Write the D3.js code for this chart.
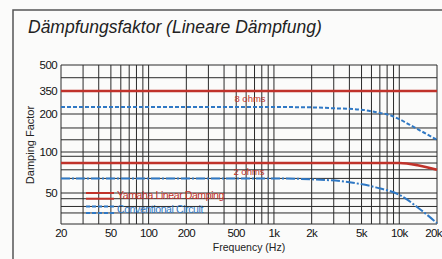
<!DOCTYPE html>
<html><head><meta charset="utf-8">
<script src="https://cdn.jsdelivr.net/npm/d3@7"></script>
<style>body{margin:0;background:#fbfbfa;}svg{display:block;}</style>
</head><body>
<svg id="c" width="442" height="259"></svg>
<script>
// ---- data ----
const title = "Dämpfungsfaktor (Lineare Dämpfung)";
const yTicks = [500, 350, 200, 100, 50];
const yGrid = [500, 420, 350, 200, 155, 125, 100, 93, 83, 74, 64, 50, 44, 37, 32, 25];
const xTicks = [20, 50, 100, 200, 500, 1000, 2000, 5000, 10000, 20000];
const xTickLabels = ["20", "50", "100", "200", "500", "1k", "2k", "5k", "10k", "20k"];
const freqs8b = [20, 1000, 2000, 3000, 5000, 7000, 8400, 10000, 13000, 20000];
const blue8 = [237, 237, 235, 230, 222, 205, 196, 182, 158, 125];
const freqsR = [20, 10000, 14000, 20000];
const red8 = [350, 350, 350, 350];
const red2 = [83, 83, 80, 74];
const freqs2b = [20, 1000, 2000, 4000, 6500, 10000, 15000, 20000];
const blue2 = [64, 64, 63, 60, 55, 48, 34, 25.5];
const legendLabels = ["Yamaha Linear Damping", "Conventional Circuit"];

const RED = "#c0322a", BLUE = "#2f78c4";
const svg = d3.select("#c");

// frame
svg.append("path").attr("d", "M13,259 L13,10 L442,10").attr("fill","none").attr("stroke","#555").attr("stroke-width",1.5);

svg.append("text").attr("x", 28).attr("y", 33).text(title)
  .attr("font-family","Liberation Sans, Arial, sans-serif").attr("font-style","italic")
  .attr("font-size", 17.5).attr("fill","#222");

const x = d3.scaleLog().domain([20, 20000]).range([61, 437]);
const y = d3.scaleLog().domain([500, 350, 200, 100, 50, 25]).range([65, 91, 114, 152, 193, 224]);

const g = svg.append("g");
// vertical grid: 1..9 per decade
const xGrid = [];
[10,100,1000,10000].forEach(d => { for (let k=1;k<10;k++){ const v=d*k; if (v>=20 && v<=20000) xGrid.push(v);} });
g.selectAll(".vx").data(xGrid).join("line")
  .attr("x1", d=>x(d)).attr("x2", d=>x(d)).attr("y1", y(500)).attr("y2", y(25))
  .attr("stroke","#2a2a2a").attr("stroke-width",1);
g.selectAll(".hy").data(yGrid).join("line")
  .attr("y1", d=>y(d)).attr("y2", d=>y(d)).attr("x1", x(20)).attr("x2", x(20000))
  .attr("stroke","#2a2a2a").attr("stroke-width",1);

const font = "Liberation Sans, Arial, sans-serif";
svg.selectAll(".yl").data(yTicks).join("text")
  .attr("x", 57).attr("y", d=>y(d)+4).attr("text-anchor","end").text(d=>d)
  .attr("font-family",font).attr("font-size",11.5).attr("fill","#111").attr("letter-spacing",-0.6);
svg.selectAll(".xl").data(xTicks).join("text")
  .attr("x", (d,i)=> i===xTicks.length-1 ? 442 : x(d)).attr("y", 237)
  .attr("text-anchor",(d,i)=> i===xTicks.length-1 ? "end" : "middle").text((d,i)=>xTickLabels[i])
  .attr("font-family",font).attr("font-size",11.5).attr("fill","#111").attr("letter-spacing",-0.6);
svg.append("text").attr("x", 249).attr("y", 251).attr("text-anchor","middle").text("Frequency (Hz)")
  .attr("font-family",font).attr("font-size",10.5).attr("fill","#222");
svg.append("text").attr("transform","translate(34,145) rotate(-90)").attr("text-anchor","middle").text("Damping Factor")
  .attr("font-family",font).attr("font-size",11).attr("fill","#222");

const line = d3.line().curve(d3.curveMonotoneX);
function draw(fs, vs, color, dash, w){
  svg.append("path").attr("d", line(fs.map((f,i)=>[x(f), y(vs[i])])))
    .attr("fill","none").attr("stroke",color).attr("stroke-width",w).attr("stroke-dasharray",dash);
}
draw(freqsR, red8, RED, null, 2.6);
draw(freqsR, red2, RED, null, 2.6);
draw(freqs8b, blue8, BLUE, "4,2", 2);
draw(freqs2b, blue2, BLUE, "9,2,2,2", 2);

svg.append("text").attr("x", 250).attr("y", y(350)+11).attr("text-anchor","middle").text("8 ohms")
  .attr("font-family",font).attr("font-size",9.5).attr("fill",RED);
svg.append("text").attr("x", 249).attr("y", y(83)+12).attr("text-anchor","middle").text("2 ohms")
  .attr("font-family",font).attr("font-size",9.5).attr("fill",RED);

// legend
const lg = svg.append("g");
[[y(50), y(44)],[y(37), y(32)]].forEach((ys,i)=>{
  ys.forEach(yy=>{
    lg.append("line").attr("x1",86).attr("x2",114).attr("y1",yy).attr("y2",yy)
      .attr("stroke", i===0?RED:BLUE).attr("stroke-width",2).attr("stroke-dasharray", i===0?null:"4,2");
  });
  lg.append("text").attr("x",117).attr("y",(ys[0]+ys[1])/2+3.5).text(legendLabels[i])
    .attr("font-family",font).attr("font-size",10.5).attr("fill", i===0?RED:BLUE).attr("letter-spacing",-0.4);
});
</script>
</body></html>
